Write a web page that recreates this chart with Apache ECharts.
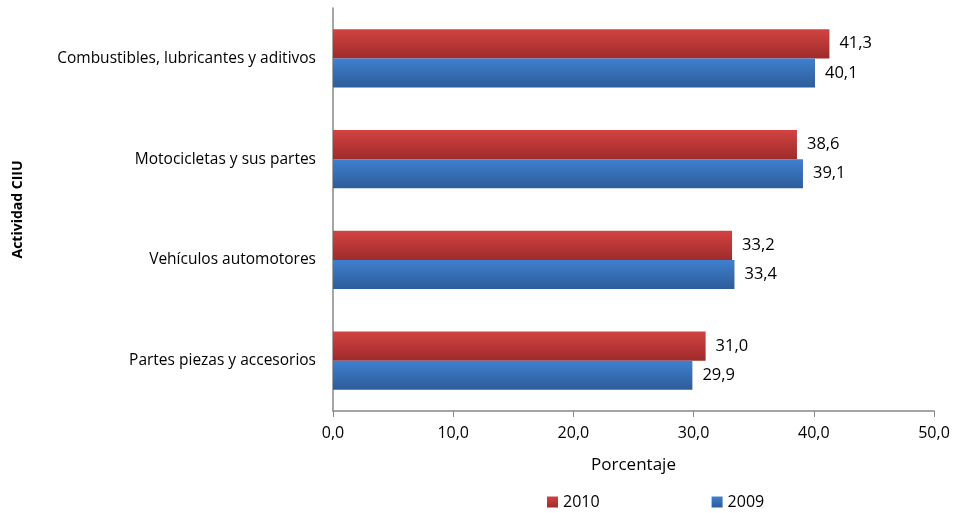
<!DOCTYPE html>
<html>
<head>
<meta charset="utf-8">
<script src="https://cdn.jsdelivr.net/npm/echarts@6/dist/echarts.min.js"></script>
<style>
  html, body { margin: 0; padding: 0; background: #fff; }
  #chart { width: 954px; height: 513px; }
</style>
</head>
<body>
<div id="chart"></div>
<script>
var categories = ['Partes piezas y accesorios', 'Vehículos automotores', 'Motocicletas y sus partes', 'Combustibles, lubricantes y aditivos'];
var values2009 = [29.9, 33.4, 39.1, 40.1];
var values2010 = [31.0, 33.2, 38.6, 41.3];

var font = '"Open Sans", "Liberation Sans", sans-serif';

function fmt(v) {
    return v.toFixed(1).replace('.', ',');
}

function grad(top, bottom) {
    return {
        type: 'linear', x: 0, y: 0, x2: 0, y2: 1,
        colorStops: [{ offset: 0, color: top }, { offset: 1, color: bottom }]
    };
}

var labelStyle = {
    show: true,
    position: 'right',
    distance: 10,
    color: '#000',
    fontSize: 16.5,
    fontFamily: font,
    formatter: function (p) { return fmt(p.value); }
};

var option = {
    animation: false,
    grid: { left: 333, right: 20, top: 8, bottom: 102 },
    legend: {
        data: ['2010', '2009'],
        left: 542,
        top: 489,
        itemWidth: 11,
        itemHeight: 11,
        itemGap: 112,
        icon: 'rect',
        textStyle: { fontSize: 16, fontFamily: font, color: '#000' }
    },
    xAxis: {
        type: 'value',
        min: 0,
        max: 50,
        interval: 10,
        name: 'Porcentaje',
        nameLocation: 'middle',
        nameGap: 46,
        nameTextStyle: { fontSize: 17, fontFamily: font, color: '#000' },
        axisLine: { show: true, lineStyle: { color: '#888', width: 1.5 } },
        axisTick: { show: true, length: 6, lineStyle: { color: '#888' } },
        splitLine: { show: false },
        axisLabel: {
            fontSize: 16, fontFamily: font, color: '#000', margin: 14,
            formatter: function (v) { return fmt(v); }
        }
    },
    yAxis: {
        type: 'category',
        data: categories,
        name: 'Actividad CIIU',
        nameLocation: 'middle',
        nameGap: 308,
        nameTextStyle: { fontSize: 14, fontWeight: 'bold', fontFamily: font, color: '#000' },
        axisLine: { show: true, lineStyle: { color: '#888', width: 1.5 } },
        axisTick: { show: false },
        axisLabel: { fontSize: 15.5, fontFamily: font, color: '#000', margin: 17 }
    },
    series: [{
        name: '2010',
        type: 'bar',
        data: values2010,
        barWidth: '29%',
        barGap: '0%',
        itemStyle: { color: grad('#d24342', '#9e2b2a') },
        label: labelStyle
    }, {
        name: '2009',
        type: 'bar',
        data: values2009,
        barWidth: '29%',
        barGap: '0%',
        itemStyle: { color: grad('#3f80cf', '#2d5c9a') },
        label: labelStyle
    }]
};

var chart = echarts.init(document.getElementById('chart'));
chart.setOption(option);
</script>
</body>
</html>
